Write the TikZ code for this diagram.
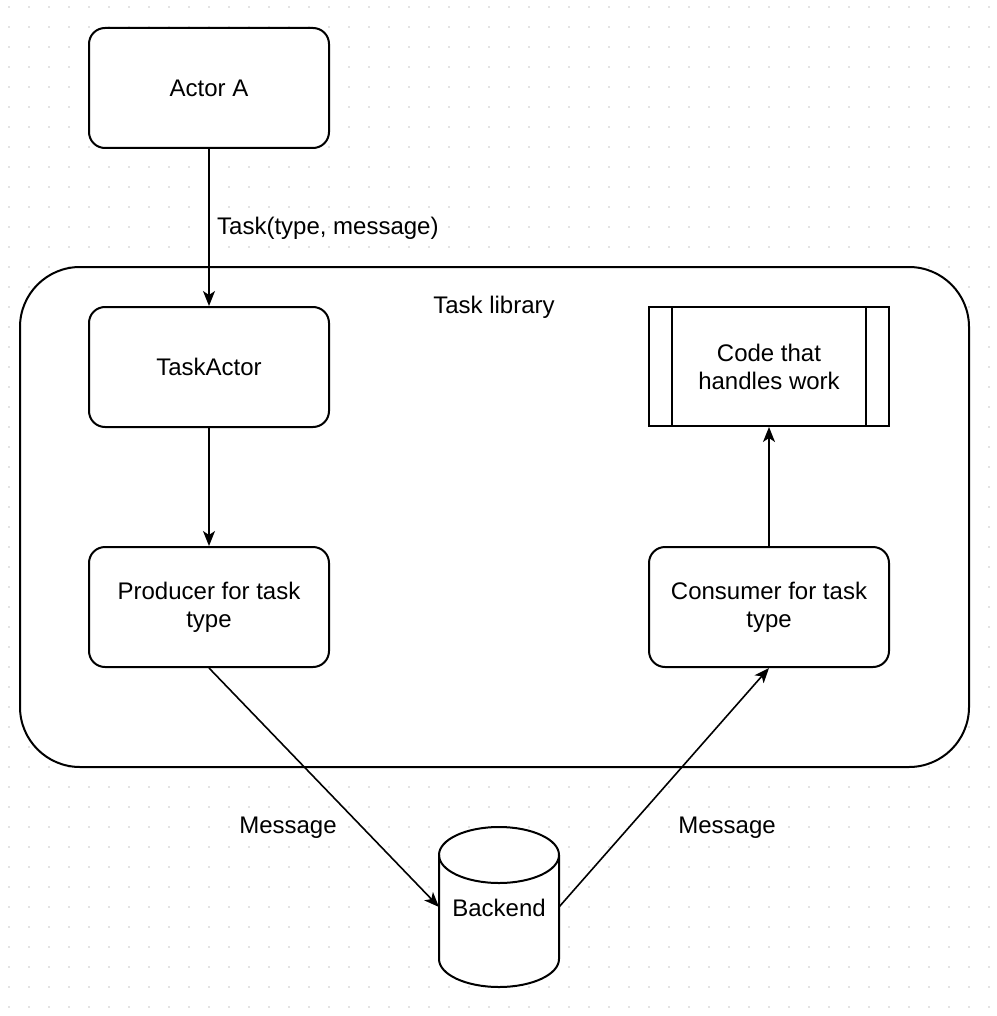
\documentclass[tikz,border=0pt]{standalone}
\usepackage{fontspec}
\setmainfont{Liberation Sans}
\usetikzlibrary{arrows.meta,shapes.geometric}
\begin{document}
\begin{tikzpicture}[x=1pt,y=-1pt,
  box/.style={draw,line width=2pt,rounded corners=16pt,minimum width=240pt,minimum height=120pt,inner sep=0pt,align=center,fill=white},
  plainbox/.style={draw,line width=2pt,minimum width=240pt,minimum height=119pt,inner sep=0pt,align=center,fill=white},
  lbl/.style={inner sep=0pt},
  conn/.style={line width=1.6pt,-{Stealth[length=15pt,width=12pt,inset=4pt]}},
  every node/.style={font=\fontsize{24}{28}\selectfont}]
\useasboundingbox (0,0) rectangle (996,1016);
\fill[white] (0,0) rectangle (996,1016);
\foreach \i in {0,...,49}{\foreach \j in {0,...,50}{\fill[black!22] (9+20*\i,7+20*\j) circle (0.9pt);}}
% container
\draw[line width=2pt,rounded corners=60pt,fill=white] (20,267) rectangle (969,767);
\node[lbl] (lib) at (494,307) {Task library};
\node[box] (actor) at (209,88) {Actor A};
\node[box] (taskactor) at (209,367) {TaskActor};
\node[box] (producer) at (209,607) {Producer for task\\type};
\node[box] (consumer) at (769,607) {Consumer for task\\type};
\node[plainbox] (code) at (769,366.5) {Code that\\handles work};
\draw[line width=2pt] ([xshift=24pt]code.north west) -- ([xshift=24pt]code.south west);
\draw[line width=2pt] ([xshift=-24pt]code.north east) -- ([xshift=-24pt]code.south east);
% cylinder
\draw[line width=2pt,fill=white] (439,855) -- (439,959) arc[start angle=180,end angle=0,x radius=60,y radius=28] -- (559,855) arc[start angle=0,end angle=-180,x radius=60,y radius=28] -- cycle;
\draw[line width=2pt] (439,855) arc[start angle=180,end angle=0,x radius=60,y radius=28];
\node[lbl] (backend) at (499,908) {Backend};
\coordinate (bkleft) at (439,907);
\coordinate (bkright) at (559,907);
% connectors
\draw[conn] (actor.south) -- (taskactor.north);
\node[lbl,anchor=west] (tlabel) at (217,228) {Task(type, message)};
\draw[conn] (taskactor.south) -- (producer.north);
\draw[conn] (producer.south) -- (bkleft);
\draw[conn] (bkright) -- (consumer.south);
\draw[conn] (consumer.north) -- (code.south);
\node[lbl] (m1) at (288,828) {Message};
\node[lbl] (m2) at (727,828) {Message};
\end{tikzpicture}
\end{document}
